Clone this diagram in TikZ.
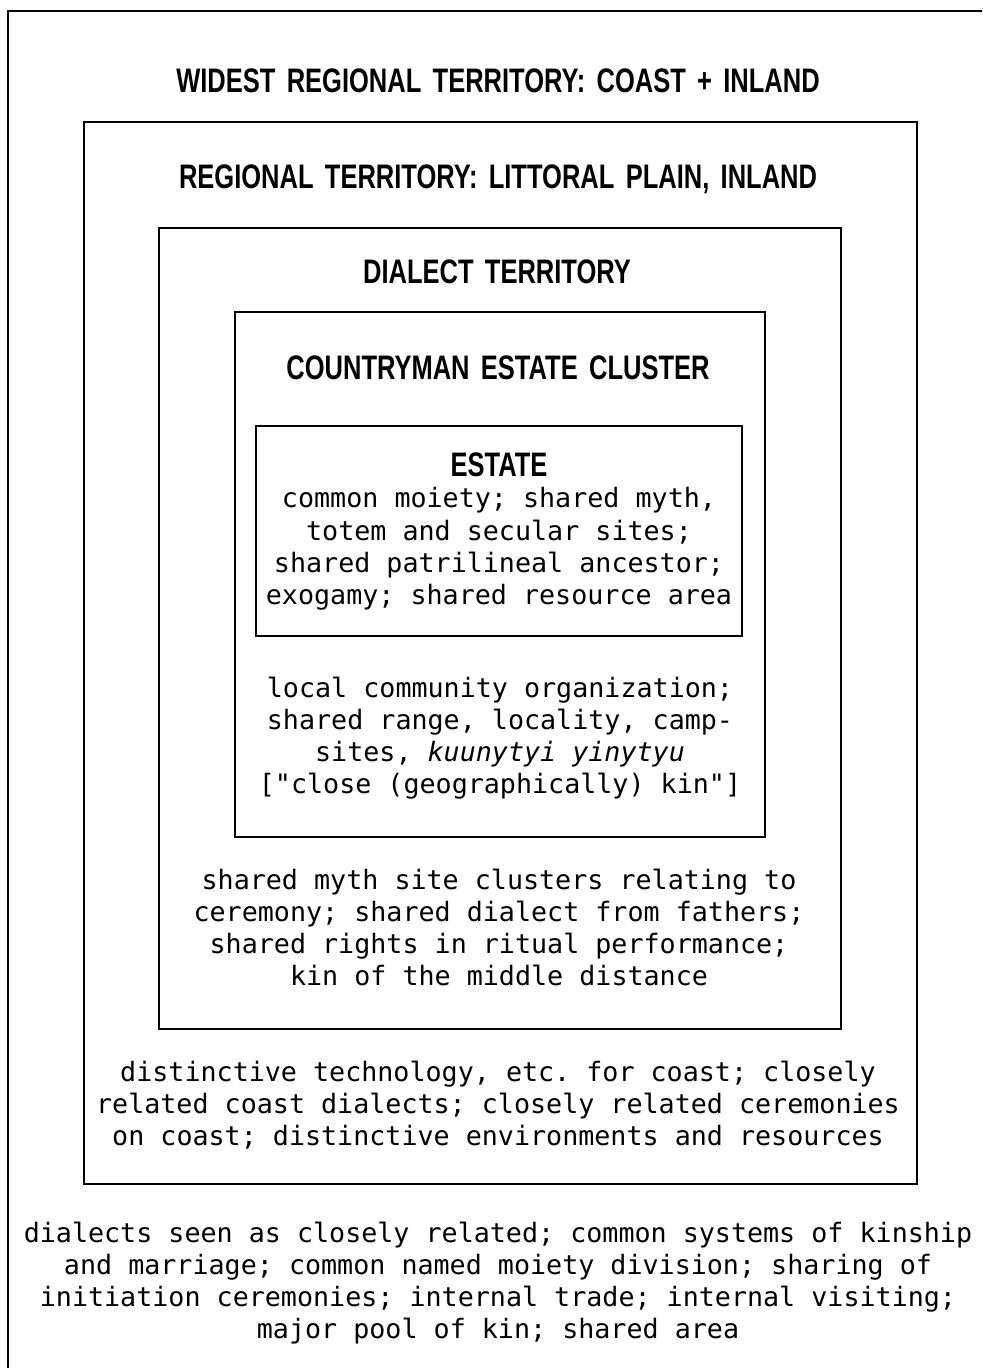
\documentclass[tikz,border=0pt]{standalone}
\usepackage{fontspec}
\newfontfamily\bodyfont{DejaVu Sans Mono}
\newfontfamily\ttlfont[FakeStretch=0.75,WordSpace=1.6]{Liberation Sans}
\tikzset{
  frame/.style={draw=black, line width=1.1pt},
  ttl/.style={font=\ttlfont\bfseries\fontsize{17pt}{20pt}\selectfont, anchor=base, inner sep=0pt},
  body/.style={font=\bodyfont\frenchspacing\fontsize{13.35pt}{16pt}\selectfont, anchor=base, inner sep=0pt}
}
\begin{document}
\begin{tikzpicture}[x=0.5pt,y=-0.5pt]
\useasboundingbox (0,0) rectangle (982,1368);
\clip (0,0) rectangle (982,1368);
\fill[white] (0,0) rectangle (982,1368);
% frames
\draw[frame] (8,1400) -- (8,11) -- (1000,11);
\draw[frame] (84,122) rectangle (917,1184);
\draw[frame] (159,228) rectangle (841,1029);
\draw[frame] (235,312) rectangle (765,837);
\draw[frame] (256,426) rectangle (742,636);
% titles
\node[ttl] (t1) at (498,93) {WIDEST REGIONAL TERRITORY: COAST + INLAND};
\node[ttl] (t2) at (498,189) {REGIONAL TERRITORY: LITTORAL PLAIN, INLAND};
\node[ttl] (t3) at (497,284) {DIALECT TERRITORY};
\node[ttl] (t4) at (498,380) {COUNTRYMAN ESTATE CLUSTER};
\node[ttl] (t5) at (499,477) {ESTATE};
% estate
\node[body] (e1) at (499,508) {common moiety; shared myth,};
\node[body] (e2) at (499,540) {totem and secular sites;};
\node[body] (e3) at (499,572) {shared patrilineal ancestor;};
\node[body] (e4) at (499,604) {exogamy; shared resource area};
% countryman cluster
\node[body] (c1) at (500,697) {local community organization;};
\node[body] (c2) at (500,729) {shared range, locality, camp-};
\node[body] (c3) at (500,761) {sites, {\itshape kuunytyi yinytyu}};
\node[body] (c4) at (500,793) {["close (geographically) kin"]};
% dialect territory
\node[body] (d1) at (499,889) {shared myth site clusters relating to};
\node[body] (d2) at (499,921) {ceremony; shared dialect from fathers;};
\node[body] (d3) at (499,953) {shared rights in ritual performance;};
\node[body] (d4) at (499,985) {kin of the middle distance};
% regional territory
\node[body] (r1) at (498,1081) {distinctive technology, etc. for coast; closely};
\node[body] (r2) at (498,1113) {related coast dialects; closely related ceremonies};
\node[body] (r3) at (498,1145) {on coast; distinctive environments and resources};
% widest
\node[body] (w1) at (498,1242) {dialects seen as closely related; common systems of kinship};
\node[body] (w2) at (498,1274) {and marriage; common named moiety division; sharing of};
\node[body] (w3) at (498,1306) {initiation ceremonies; internal trade; internal visiting;};
\node[body] (w4) at (498,1338) {major pool of kin; shared area};
\end{tikzpicture}
\end{document}
